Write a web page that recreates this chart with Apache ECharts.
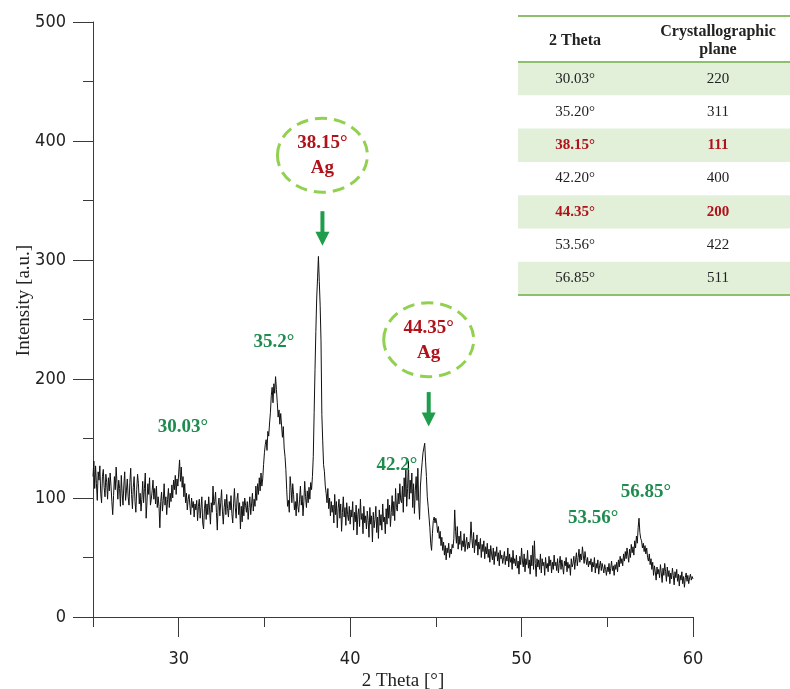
<!DOCTYPE html>
<html>
<head>
<meta charset="utf-8">
<script src="https://cdn.jsdelivr.net/npm/echarts@6/dist/echarts.min.js"></script>
<style>
  html, body { margin: 0; padding: 0; background: #fff; }
  #chart { width: 790px; height: 689px; }
</style>
</head>
<body>
<div id="chart"></div>
<script>
// XRD diffractogram, 2θ = 25° … 60° sampled every 0.05°
const thetaStart = 25;
const thetaStep = 0.05;

// one row per degree (20 samples), last value at 60.00°
const intensity = [
  118,131,108,127,112,98,122,115,127,104,96,118,124,109,101,120,113,99,117,106,   // 25
  121,110,97,86,102,118,107,126,112,99,115,108,93,119,104,94,111,122,98,106,      // 26
  116,101,94,113,125,103,91,109,118,97,88,107,120,112,95,104,89,99,114,96,        // 27
  108,121,83,97,112,103,117,94,99,106,115,99,108,95,110,92,101,93,75,97,          // 28
  105,89,98,112,94,101,86,99,108,92,104,97,111,100,115,107,119,103,116,110,       // 29
  121,132,114,126,109,118,101,112,96,104,90,99,103,94,86,100,92,97,84,95,         // 30
  90,98,81,93,99,83,92,101,79,74,91,98,82,95,86,101,90,78,96,88,                  // 31
  110,94,97,105,88,73,94,100,85,96,107,89,78,92,99,86,103,91,84,97,               // 32
  90,102,87,79,95,108,92,83,99,104,86,96,74,93,80,97,85,100,94,88,                // 33
  97,82,92,101,86,95,104,89,99,93,110,98,112,103,117,106,121,110,116,128,         // 34
  138,145,149,140,156,152,163,172,186,193,180,196,188,202,191,180,168,174,162,171,// 35
  172,151,160,142,135,124,107,93,98,88,118,109,96,112,103,90,97,85,104,93,        // 36
  88,99,110,94,102,85,97,114,101,92,106,96,109,99,113,107,118,135,172,208,        // 37
  240,268,285,303,282,262,232,170,148,128,122,110,104,96,108,91,100,85,97,88,     // 38
  94,79,103,86,97,75,91,99,83,95,72,88,101,84,92,77,96,86,81,93,                  // 39
  78,90,84,97,73,88,80,94,69,86,91,76,99,82,87,70,93,79,85,74,                    // 40
  89,81,67,92,78,85,63,88,75,82,93,71,84,66,90,77,86,73,95,80,                    // 41
  84,70,91,78,99,83,94,76,88,102,85,97,81,108,92,89,104,95,112,98,                // 42
  96,110,88,117,101,124,93,108,131,99,115,104,121,92,112,87,106,118,98,125,       // 43
  96,82,110,121,130,138,142,146,131,118,101,93,84,75,62,56,70,81,84,79,           // 44
  83,79,71,76,66,72,60,67,56,63,52,60,48,58,54,62,50,57,53,61,                    // 45
  58,66,90,72,62,76,57,68,61,72,56,64,59,70,55,62,67,57,63,58,                    // 46
  64,80,66,58,71,54,65,60,69,52,63,57,66,50,61,55,64,49,59,53,                    // 47
  62,50,57,46,60,53,48,58,44,55,51,59,47,54,43,56,49,52,45,50,                    // 48
  55,44,51,47,58,42,53,46,50,40,56,45,49,43,52,41,47,36,51,44,                    // 49
  58,47,42,53,38,49,44,56,41,48,36,52,43,60,40,64,45,34,49,42,                    // 50
  48,40,53,37,49,43,46,35,50,41,45,38,51,43,48,37,46,40,52,43,                    // 51
  46,39,49,37,45,51,40,48,42,36,47,43,50,38,46,41,44,35,49,42,                    // 52
  45,51,40,48,54,43,50,57,46,53,48,59,52,45,55,49,44,50,42,47,                    // 53
  44,49,38,46,42,50,37,45,41,48,36,43,47,39,45,41,37,44,40,35,                    // 54
  42,38,45,36,41,47,39,43,35,44,40,46,38,48,42,51,45,49,43,53,                    // 55
  47,55,49,58,52,46,57,50,61,54,59,52,64,58,68,62,75,83,71,66,                    // 56
  64,58,62,55,60,53,58,50,47,53,44,49,40,46,35,43,38,31,42,36,                    // 57
  40,33,44,37,29,41,35,45,38,30,42,34,39,28,37,32,41,35,27,38,                    // 58
  33,40,30,36,26,35,31,38,28,34,25,33,37,30,35,28,33,36,31,34,                    // 59
  32                                                                              // 60
];

// axis ticks
const xMajorTicks = [30, 40, 50, 60];
const xMinorTicks = [25, 35, 45, 55];

// green peak captions: text and where they sit (2θ, intensity)
const peakText  = ['30.03°', '35.2°', '42.2°', '53.56°', '56.85°'];
const peakTextX = [30.25, 35.56, 42.73, 54.17, 57.26];
const peakTextY = [160, 231, 128, 83, 105];

// silver reflections: peak position, callout height (ellipse centre, arrow top/bottom)
const agTheta   = [38.15, 44.35];
const agText    = ['38.15°', '44.35°'];
const agCircleY = [388, 233];
const agArrowTop    = [341, 189];
const agArrowBottom = [312, 160];

// table of reflections
const tableTheta = ['30.03°', '35.20°', '38.15°', '42.20°', '44.35°', '53.56°', '56.85°'];
const tablePlane = ['220', '311', '111', '400', '200', '422', '511'];
const tableIsAg  = [false, false, true, false, true, false, false];

const axisColor = '#3a3a3a';
const labelFont = "'Liberation Sans Narrow', 'DejaVu Sans Condensed', 'Liberation Sans', sans-serif";
const serifFont = "'Liberation Serif', 'DejaVu Serif', serif";
const greenText = '#1e8c4e';
const redText = '#b0121b';
const arrowGreen = '#1f9d4b';
const ringGreen = '#92d050';

const seriesData = intensity.map((v, i) => [+(thetaStart + i * thetaStep).toFixed(2), v]);

const chart = echarts.init(document.getElementById('chart'), null, { renderer: 'canvas' });

chart.setOption({
  animation: false,
  backgroundColor: '#ffffff',
  grid: { left: 93, right: 97, top: 22, bottom: 72, containLabel: false, outerBoundsMode: 'none' },
  xAxis: [{
    type: 'value', min: 25, max: 60,
    axisLine: { show: true, onZero: false, lineStyle: { color: axisColor, width: 1 } },
    axisTick: { show: true, customValues: xMajorTicks, length: 20, lineStyle: { color: axisColor } },
    axisLabel: { customValues: xMajorTicks, margin: 33, fontFamily: labelFont, fontSize: 18, color: '#222' },
    splitLine: { show: false },
    name: '2 Theta [°]', nameLocation: 'middle', nameGap: 55, nameMoveOverlap: false,
    nameTextStyle: { fontFamily: serifFont, fontSize: 19, color: '#222', padding: [0, 0, 0, 20] }
  }, {
    type: 'value', min: 25, max: 60, position: 'bottom',
    axisLine: { show: false },
    axisTick: { show: true, customValues: xMinorTicks, length: 10, lineStyle: { color: axisColor } },
    axisLabel: { show: false },
    splitLine: { show: false }
  }],
  yAxis: {
    type: 'value', min: 0, max: 500, interval: 100,
    axisLine: { show: true, lineStyle: { color: axisColor, width: 1 } },
    axisTick: { show: true, length: 20, lineStyle: { color: axisColor } },
    minorTick: { show: true, splitNumber: 2, length: 10, lineStyle: { color: axisColor } },
    axisLabel: { margin: 27, fontFamily: labelFont, fontSize: 18, color: '#222' },
    splitLine: { show: false },
    minorSplitLine: { show: false },
    name: 'Intensity [a.u.]', nameLocation: 'middle', nameGap: 59, nameMoveOverlap: false,
    nameTextStyle: { fontFamily: serifFont, fontSize: 19, color: '#222', padding: [0, 0, 0, 38] }
  },
  series: [{
    type: 'line',
    data: seriesData,
    showSymbol: false,
    symbol: 'none',
    lineStyle: { color: '#111', width: 1 },
    silent: true
  }]
});

function toPx(x, y) {
  return chart.convertToPixel({ seriesIndex: 0 }, [x, y]);
}

const g = [];

// peak captions
peakText.forEach((t, i) => {
  const p = toPx(peakTextX[i], peakTextY[i]);
  g.push({
    type: 'text', x: p[0], y: p[1], z: 10,
    style: { text: t, fill: greenText, font: `bold 19px ${serifFont}`, align: 'center', verticalAlign: 'middle' }
  });
});

// Ag callouts: dashed ring, label, arrow pointing at the peak
agTheta.forEach((th, i) => {
  const c = toPx(th, agCircleY[i]);
  const cx = c[0] + 4;
  g.push({
    type: 'ellipse', z: 10,
    shape: { cx: cx, cy: c[1], rx: 45, ry: 37 },
    style: { fill: 'none', stroke: ringGreen, lineWidth: 3, lineDash: [12, 7] }
  });
  g.push({
    type: 'text', x: cx, y: c[1] - 12, z: 11,
    style: { text: agText[i], fill: redText, font: `bold 19px ${serifFont}`, align: 'center', verticalAlign: 'middle' }
  });
  g.push({
    type: 'text', x: cx, y: c[1] + 13, z: 11,
    style: { text: 'Ag', fill: redText, font: `bold 19px ${serifFont}`, align: 'center', verticalAlign: 'middle' }
  });
  const a0 = toPx(th, agArrowTop[i]);
  const a1 = toPx(th, agArrowBottom[i]);
  const ax = a0[0] + 4;
  g.push({
    type: 'line', z: 10,
    shape: { x1: ax, y1: a0[1], x2: ax, y2: a1[1] - 12 },
    style: { stroke: arrowGreen, lineWidth: 4 }
  });
  g.push({
    type: 'polygon', z: 10,
    shape: { points: [[ax - 7, a1[1] - 14], [ax + 7, a1[1] - 14], [ax, a1[1]]] },
    style: { fill: arrowGreen }
  });
});

// reflection table (top right)
const tX = 518, tW = 272, tTop = 16, tHead = 46, tRow = 33.3;
const col1 = 575, col2 = 718;
const lineGreen = '#8dbf6d';
tableTheta.forEach((t, i) => {
  const y0 = tTop + tHead + i * tRow;
  if (i % 2 === 0) {
    g.push({ type: 'rect', z: 5, shape: { x: tX, y: y0, width: tW, height: tRow }, style: { fill: '#e2efd9' } });
  }
  const f = tableIsAg[i] ? `bold 15px ${serifFont}` : `15px ${serifFont}`;
  const col = tableIsAg[i] ? redText : '#222';
  g.push({ type: 'text', x: col1, y: y0 + tRow / 2, z: 6, style: { text: t, fill: col, font: f, align: 'center', verticalAlign: 'middle' } });
  g.push({ type: 'text', x: col2, y: y0 + tRow / 2, z: 6, style: { text: tablePlane[i], fill: col, font: f, align: 'center', verticalAlign: 'middle' } });
});
const tBottom = tTop + tHead + tableTheta.length * tRow;
[tTop, tTop + tHead, tBottom].forEach(y => {
  g.push({ type: 'line', z: 7, shape: { x1: tX, y1: y, x2: tX + tW, y2: y }, style: { stroke: lineGreen, lineWidth: 2 } });
});
g.push({ type: 'text', x: col1, y: tTop + tHead / 2 + 2, z: 6,
  style: { text: '2 Theta', fill: '#222', font: `bold 16px ${serifFont}`, align: 'center', verticalAlign: 'middle' } });
g.push({ type: 'text', x: col2, y: tTop + tHead / 2 + 2, z: 6,
  style: { text: 'Crystallographic\nplane', fill: '#222', font: `bold 16px ${serifFont}`, lineHeight: 18, align: 'center', verticalAlign: 'middle' } });

chart.setOption({ graphic: { elements: g } });
</script>
</body>
</html>
